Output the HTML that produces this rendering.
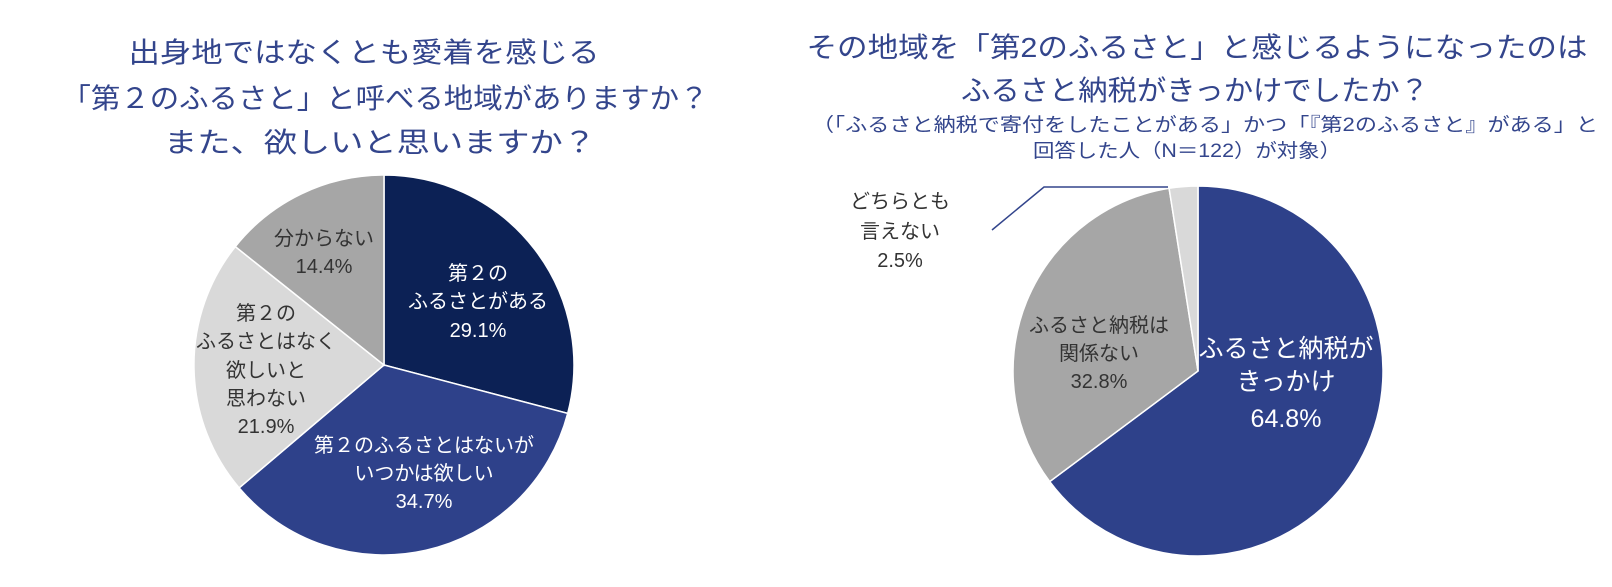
<!DOCTYPE html>
<html><head><meta charset="utf-8"><style>
body{margin:0;background:#fff;}
svg text{font-family:"Liberation Sans","Noto Sans CJK JP",sans-serif;}
</style></head><body>
<svg width="1612" height="582" viewBox="0 0 1612 582" xmlns="http://www.w3.org/2000/svg">
<g fill="#33458c" font-size="28" text-anchor="middle">
<text x="364" y="62" textLength="471" lengthAdjust="spacingAndGlyphs">出身地ではなくとも愛着を感じる</text>
<text x="385" y="108" textLength="647" lengthAdjust="spacingAndGlyphs">「第２のふるさと」と呼べる地域がありますか？</text>
<text x="380" y="152" textLength="432" lengthAdjust="spacingAndGlyphs">また、欲しいと思いますか？</text>
<text x="1197" y="57" textLength="781" lengthAdjust="spacingAndGlyphs">その地域を「第2のふるさと」と感じるようになったのは</text>
<text x="1195" y="100" textLength="468" lengthAdjust="spacingAndGlyphs">ふるさと納税がきっかけでしたか？</text>
<text x="1205" y="131" font-size="19" textLength="786" lengthAdjust="spacingAndGlyphs">（「ふるさと納税で寄付をしたことがある」かつ「『第2のふるさと』がある」と</text>
<text x="1187" y="157" font-size="19" textLength="308" lengthAdjust="spacingAndGlyphs">回答した人（N＝122）が対象）</text>
</g>
<g stroke="#fff" stroke-width="1.5">
<path d="M384,365 L384,175 A190,190 0 0 1 567.7,413.4 Z" fill="#0c2155"/>
<path d="M384,365 L567.7,413.4 A190,190 0 0 1 239.1,487.9 Z" fill="#2e418a"/>
<path d="M384,365 L239.1,487.9 A190,190 0 0 1 235.3,246.6 Z" fill="#d9d9d9"/>
<path d="M384,365 L235.3,246.6 A190,190 0 0 1 384,175 Z" fill="#a6a6a6"/>
<path d="M1198,371 L1198,186 A185,185 0 1 1 1049.7,481.6 Z" fill="#2e418a"/>
<path d="M1198,371 L1049.7,481.6 A185,185 0 0 1 1169.1,188.3 Z" fill="#a6a6a6"/>
<path d="M1198,371 L1169.1,188.3 A185,185 0 0 1 1198,186 Z" fill="#d9d9d9"/>
</g>
<polyline points="992,230 1044,187 1168,187" fill="none" stroke="#33458c" stroke-width="1.5"/>
<g font-size="20" text-anchor="middle">
<g fill="#fff">
<text x="478" y="280">第２の</text>
<text x="478" y="308">ふるさとがある</text>
<text x="478" y="337">29.1%</text>
<text x="424" y="452">第２のふるさとはないが</text>
<text x="424" y="480">いつかは欲しい</text>
<text x="424" y="508">34.7%</text>
<text x="1286" y="357" font-size="25">ふるさと納税が</text>
<text x="1286" y="390" font-size="25">きっかけ</text>
<text x="1286" y="427" font-size="25">64.8%</text>
</g>
<g fill="#333">
<text x="324" y="245">分からない</text>
<text x="324" y="273">14.4%</text>
<text x="266" y="320">第２の</text>
<text x="266" y="348">ふるさとはなく</text>
<text x="266" y="377">欲しいと</text>
<text x="266" y="405">思わない</text>
<text x="266" y="433">21.9%</text>
<text x="1099" y="332">ふるさと納税は</text>
<text x="1099" y="360">関係ない</text>
<text x="1099" y="388">32.8%</text>
<text x="900" y="208">どちらとも</text>
<text x="900" y="238">言えない</text>
<text x="900" y="267">2.5%</text>
</g>
</g>
</svg>
</body></html>
